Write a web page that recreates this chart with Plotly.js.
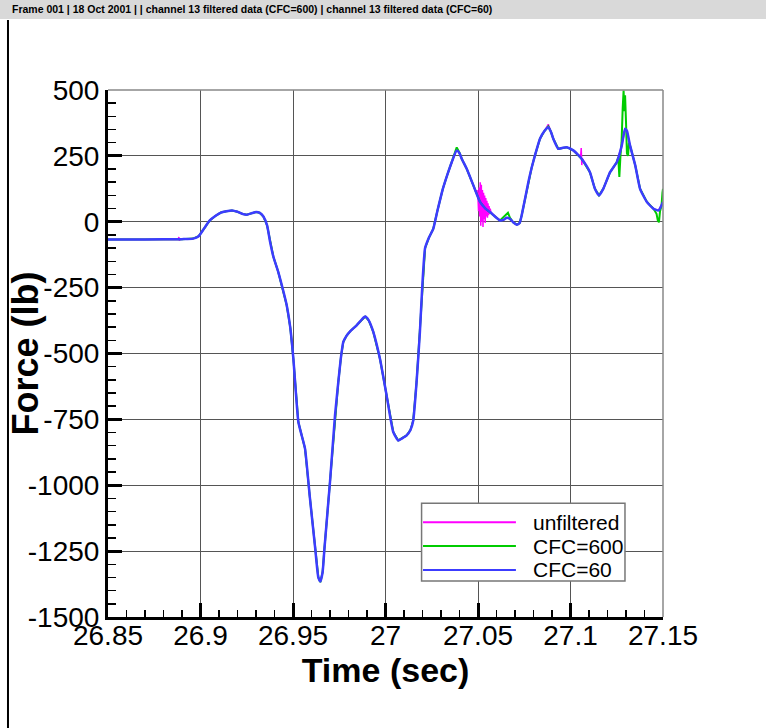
<!DOCTYPE html>
<html>
<head>
<meta charset="utf-8">
<script src="https://cdn.plot.ly/plotly-3.0.1.min.js"></script>
<style>html,body{margin:0;padding:0;background:#fff;}#chart{width:766px;height:728px;}</style>
</head>
<body>
<div id="chart"></div>
<script>
// ---- Data ----
const seriesNames = ['unfiltered', 'CFC=600', 'CFC=60'];
const seriesColors = ['#ff00ff', '#00cc00', '#3c3cff'];

// CFC=60 (blue)
const timeCFC60 = [26.850,26.870,26.890,26.896,26.899,26.902,26.905,26.908,26.911,26.914,26.917,26.920,26.923,26.925,26.928,26.930,26.932,26.934,26.936,26.9376,26.9394,26.942,26.944,26.9466,26.9485,26.9502,26.9529,26.9547,26.9565,26.959,26.962,26.9637,26.9648,26.966,26.967,26.970,26.9727,26.9745,26.976,26.9772,26.979,26.981,26.9844,26.987,26.989,26.991,26.9934,26.997,27.0006,27.0042,27.0069,27.009,27.0114,27.0135,27.015,27.0168,27.0186,27.020,27.0214,27.0235,27.0258,27.028,27.031,27.0335,27.0358,27.0385,27.040,27.0412,27.0439,27.0475,27.0511,27.054,27.0565,27.0595,27.0619,27.064,27.0655,27.0673,27.069,27.071,27.0725,27.0736,27.0755,27.0772,27.079,27.0808,27.0835,27.086,27.088,27.0895,27.0907,27.0934,27.0955,27.0979,27.1015,27.104,27.106,27.1105,27.1132,27.1154,27.1177,27.1214,27.125,27.1277,27.1295,27.1305,27.1322,27.135,27.1376,27.1413,27.1449,27.1476,27.150];
const forceCFC60 = [-67,-67,-66,-64,-55,-25,5,22,35,40,43,38,29,27,33,37,34,20,-14,-76,-133,-190,-242,-317,-400,-520,-760,-811,-861,-1038,-1240,-1350,-1365,-1330,-1240,-987,-735,-608,-510,-456,-432,-415,-393,-372,-360,-375,-418,-520,-659,-798,-830,-822,-811,-790,-754,-608,-418,-229,-100,-60,-27,40,125,180,226,270,260,239,201,138,75,50,37,18,5,8,15,11,-2,-11,-5,24,90,150,205,252,315,345,359,340,315,277,280,283,271,255,239,188,125,100,125,188,226,289,353,345,289,214,125,75,49,43,75];

// CFC=600 (green)
const timeCFC600 = [26.850,26.870,26.890,26.896,26.899,26.902,26.905,26.908,26.911,26.914,26.917,26.920,26.923,26.925,26.928,26.930,26.932,26.934,26.936,26.9376,26.9394,26.942,26.944,26.9466,26.9485,26.9502,26.9529,26.9547,26.9565,26.959,26.962,26.9637,26.9648,26.966,26.967,26.970,26.9727,26.9745,26.976,26.9772,26.979,26.981,26.9844,26.987,26.989,26.991,26.9934,26.997,27.0006,27.0042,27.0069,27.009,27.0114,27.0135,27.015,27.0168,27.0186,27.020,27.0214,27.0235,27.0258,27.028,27.031,27.0335,27.0358,27.0385,27.040,27.0412,27.0439,27.0475,27.0511,27.054,27.0565,27.0595,27.0619,27.064,27.0662,27.0673,27.069,27.071,27.0725,27.0736,27.0755,27.0772,27.079,27.0808,27.0835,27.086,27.088,27.0895,27.0907,27.0934,27.0955,27.0979,27.1015,27.104,27.106,27.1105,27.1132,27.1154,27.1177,27.1214,27.125,27.1258,27.1264,27.1270,27.1276,27.1282,27.1287,27.1291,27.1295,27.1300,27.1305,27.1311,27.1316,27.1322,27.135,27.1376,27.1413,27.1449,27.1465,27.1472,27.1478,27.1484,27.1492,27.1497,27.150];
const forceCFC600 = [-67,-67,-66,-64,-55,-25,5,22,35,40,43,38,29,27,33,37,34,20,-14,-76,-133,-190,-242,-317,-400,-520,-760,-811,-861,-1038,-1240,-1350,-1368,-1330,-1240,-987,-735,-608,-510,-456,-432,-415,-393,-372,-360,-375,-418,-520,-659,-798,-830,-822,-811,-790,-754,-608,-418,-229,-100,-60,-27,40,125,180,226,282,262,239,201,138,75,50,37,18,5,20,34,15,-2,-11,-5,24,90,150,205,252,315,345,362,340,315,277,280,283,271,255,239,188,125,100,125,188,226,245,170,250,300,430,498,420,480,380,260,250,300,289,214,125,75,49,30,5,-2,40,60,110,125];

// unfiltered (magenta)
const timeUnfiltered = [26.850,26.870,26.888,26.8883,26.8886,26.889,26.890,26.896,26.899,26.902,26.905,26.908,26.911,26.914,26.917,26.920,26.923,26.925,26.928,26.930,26.932,26.934,26.936,26.9376,26.9394,26.942,26.944,26.9466,26.9485,26.9502,26.9529,26.9547,26.9565,26.959,26.962,26.9637,26.9648,26.966,26.967,26.970,26.9727,26.9745,26.976,26.9772,26.979,26.981,26.9844,26.987,26.989,26.991,26.9934,26.997,27.0006,27.0042,27.0069,27.009,27.0114,27.0135,27.015,27.0168,27.0186,27.020,27.0214,27.0235,27.0258,27.028,27.031,27.0335,27.0358,27.0385,27.040,27.0412,27.0439,27.0475,27.0490,27.0495,27.0500,27.0503,27.0506,27.0509,27.0512,27.0515,27.0518,27.0521,27.0524,27.0527,27.0530,27.0533,27.0536,27.0539,27.0542,27.0545,27.0548,27.0551,27.0554,27.0557,27.0560,27.0563,27.0566,27.0570,27.0595,27.0619,27.064,27.0655,27.0673,27.069,27.071,27.0725,27.0736,27.0755,27.0772,27.079,27.0808,27.0835,27.086,27.088,27.0895,27.0907,27.0934,27.0955,27.0979,27.1015,27.104,27.1055,27.1058,27.1061,27.1064,27.1105,27.1132,27.1154,27.1177,27.1214,27.125,27.1277,27.1295,27.1305,27.1322,27.135,27.1376,27.1413,27.1449,27.1476,27.150];
const forceUnfiltered = [-67,-67,-66,-58,-72,-66,-66,-64,-55,-25,5,22,35,40,43,38,29,27,33,37,34,20,-14,-76,-133,-190,-242,-317,-400,-520,-760,-811,-861,-1038,-1240,-1350,-1365,-1330,-1240,-987,-735,-608,-510,-456,-432,-415,-393,-372,-360,-375,-418,-520,-659,-798,-830,-822,-811,-790,-754,-608,-418,-229,-100,-60,-27,40,125,180,226,275,260,239,201,138,110,120,90,40,130,20,150,-15,140,0,120,-20,110,10,100,-5,90,20,80,15,70,25,60,30,50,35,18,5,8,15,11,-2,-11,-5,24,90,150,205,252,315,345,370,340,315,277,280,283,271,255,250,280,215,240,188,125,100,125,188,226,289,353,345,289,214,125,75,49,43,75];

// Axis ticks
const xTickVals = [26.85, 26.9, 26.95, 27, 27.05, 27.1, 27.15];
const xTickText = ['26.85', '26.9', '26.95', '27', '27.05', '27.1', '27.15'];
const yTickVals = [500, 250, 0, -250, -500, -750, -1000, -1250, -1500];
const yTickText = ['500', '250', '0', '-250', '-500', '-750', '-1000', '-1250', '-1500'];

const headerText = 'Frame 001 | 18 Oct 2001 | | channel 13 filtered data (CFC=600) | channel 13 filtered data (CFC=60)';

// ---- Chart ----
const FONT = 'Liberation Sans, Arial, sans-serif';
const traces = [
  {x: timeUnfiltered, y: forceUnfiltered, name: seriesNames[0], mode: 'lines', line: {color: seriesColors[0], width: 1.5}},
  {x: timeCFC600, y: forceCFC600, name: seriesNames[1], mode: 'lines', line: {color: seriesColors[1], width: 2}},
  {x: timeCFC60, y: forceCFC60, name: seriesNames[2], mode: 'lines', line: {color: seriesColors[2], width: 2.5, shape: 'spline', smoothing: 0.5}}
];

// custom legend (paper coordinates)
const legX0 = 0.565, legX1 = 0.9315, legY0 = 0.0683, legY1 = 0.2157;
const legRowY = [0.1797, 0.1347, 0.0892];
const shapes = [
  {type: 'rect', xref: 'paper', yref: 'paper', x0: -0.2, x1: 1.2, y0: 1.1347, y1: 1.2, fillcolor: '#d9d9d9', line: {width: 0}, layer: 'below'},
  {type: 'line', xref: 'paper', yref: 'paper', x0: -0.1802, x1: -0.1802, y0: -0.25, y1: 1.1328, line: {color: '#000', width: 2}},
  {type: 'line', xref: 'paper', yref: 'paper', x0: 0, x1: 1, y0: 1, y1: 1, line: {color: '#888', width: 1.5}},
  {type: 'line', xref: 'paper', yref: 'paper', x0: 1, x1: 1, y0: 0, y1: 1, line: {color: '#888', width: 1.5}},
  {type: 'rect', xref: 'paper', yref: 'paper', x0: legX0, x1: legX1, y0: legY0, y1: legY1, fillcolor: '#fff', line: {color: '#777', width: 1.5}}
];
const annotations = [
  {xref: 'paper', yref: 'paper', x: -0.1766, y: 1.1528, xanchor: 'left', yanchor: 'middle', showarrow: false,
   text: headerText, font: {family: FONT, size: 10.5, color: '#000', weight: 700}},
  {xref: 'paper', yref: 'paper', x: -0.1495, y: 0.5, xanchor: 'center', yanchor: 'middle', showarrow: false, textangle: -90,
   text: 'Force (lb)', font: {family: FONT, size: 36, color: '#000', weight: 700}}
];
seriesNames.forEach(function (n, i) {
  shapes.push({type: 'line', xref: 'paper', yref: 'paper', x0: 0.5676, x1: 0.735, y0: legRowY[i], y1: legRowY[i], line: {color: seriesColors[i], width: 2}});
  annotations.push({xref: 'paper', yref: 'paper', x: 0.763, y: legRowY[i], xanchor: 'left', yanchor: 'middle', showarrow: false,
    text: n, font: {family: FONT, size: 21, color: '#000'}});
});

const axisCommon = {
  ticks: 'inside', ticklen: 14, tickwidth: 3, tickcolor: '#000',
  showline: true, linewidth: 3, linecolor: '#000',
  showgrid: true, gridcolor: '#555', gridwidth: 1, zeroline: false,
  tickfont: {family: FONT, size: 28, color: '#000'},
  tickmode: 'array'
};

const layout = {
  width: 766, height: 728,
  margin: {l: 108, r: 103, t: 90, b: 111, pad: 0},
  paper_bgcolor: '#fff', plot_bgcolor: '#fff',
  showlegend: false,
  xaxis: Object.assign({}, axisCommon, {
    range: [26.85, 27.15], tickvals: xTickVals, ticktext: xTickText,
    ticklabelstandoff: -9,
    minor: {ticks: 'inside', ticklen: 7, tickwidth: 1.5, tickcolor: '#000', tickmode: 'linear', tick0: 26.85, dtick: 0.01, showgrid: false},
    title: {text: 'Time (sec)', font: {family: FONT, size: 34, color: '#000', weight: 700}, standoff: 0}
  }),
  yaxis: Object.assign({}, axisCommon, {
    range: [-1500, 500], tickvals: yTickVals, ticktext: yTickText,
    minor: {ticks: 'inside', ticklen: 8, tickwidth: 1.5, tickcolor: '#000', tickmode: 'linear', tick0: -1500, dtick: 50, showgrid: false}
  }),
  shapes: shapes,
  annotations: annotations
};

Plotly.newPlot('chart', traces, layout, {staticPlot: true, displayModeBar: false});
</script>
</body>
</html>
